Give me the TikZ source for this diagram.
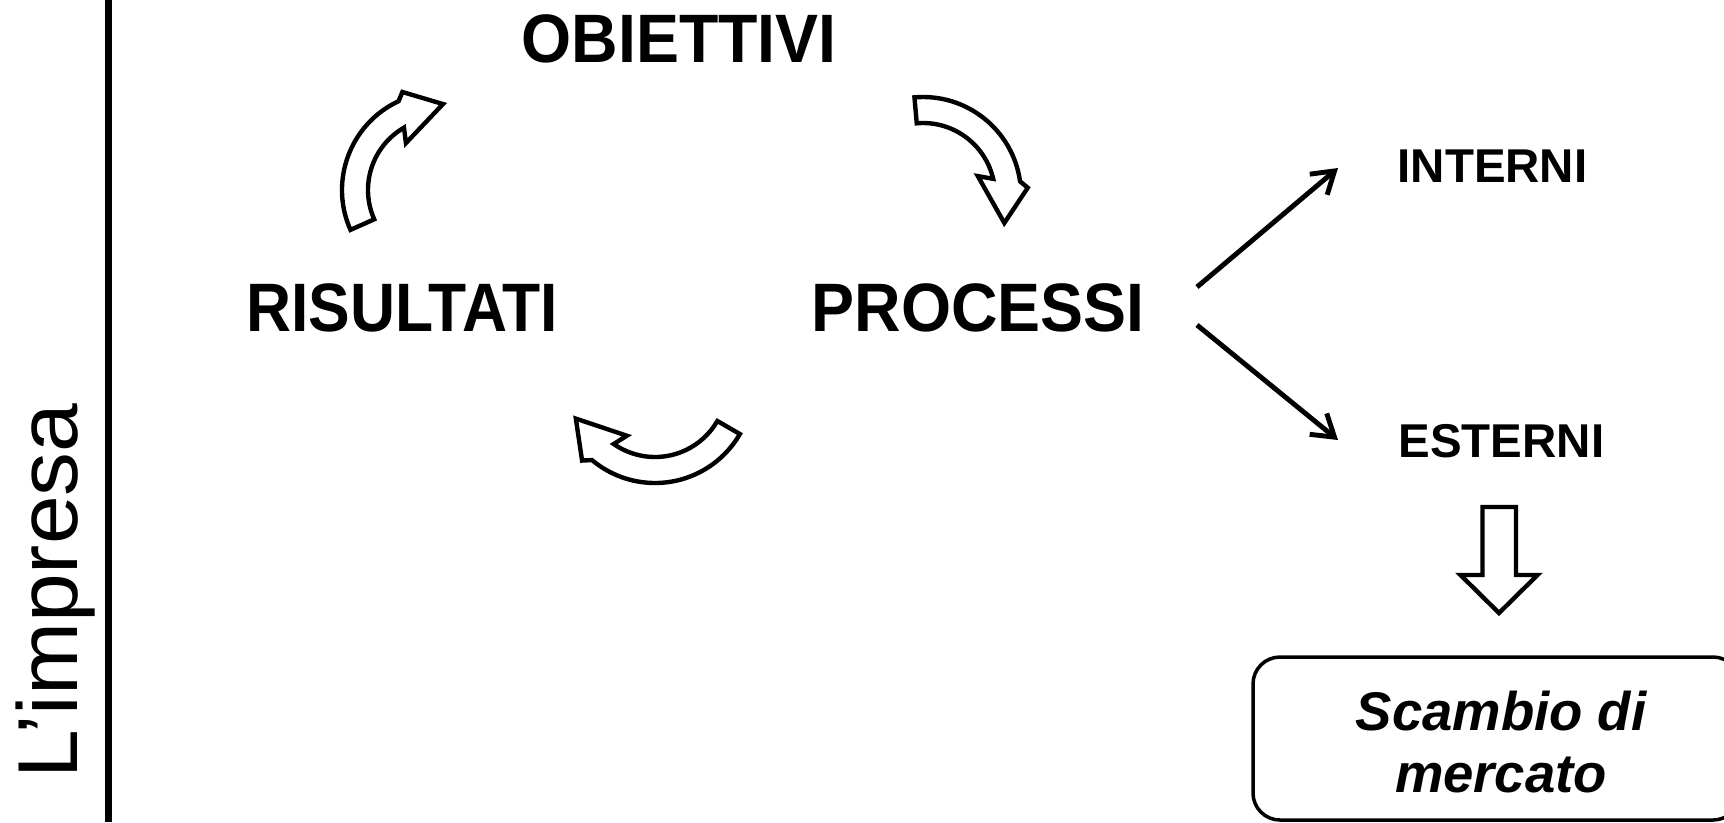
\documentclass[tikz,border=0pt]{standalone}
\usepackage{fontspec}
\setmainfont{Liberation Sans}
\usetikzlibrary{arrows.meta}

\tikzset{
  cycleword/.style={font=\bfseries\fontsize{19.5}{22}\selectfont, inner sep=0pt},
  sideword/.style={font=\bfseries\fontsize{13.5}{16}\selectfont, inner sep=0pt},
  flow/.style={line width=1.4pt, -{Straight Barb[length=2.1mm,width=2.7mm]}},
  blockarrow/.style={line width=1.25pt, line join=miter, fill=white},
}

% curved block arrow: centre, tail angle, head angle (runs clockwise)
\newcommand{\turnarrow}[3]{%
  \begin{scope}[shift={#1}]
    \draw[blockarrow] (#2:9.8) arc[start angle=#2, end angle=#3-2, radius=9.8]
      -- (#3-6:10.5) -- (#3-29:8.6) -- (#3+9:5.8) -- (#3+3:7.2)
      arc[start angle=#3+3, end angle=#2, radius=7.2] -- cycle;
  \end{scope}}

\begin{document}
\begin{tikzpicture}[x=1mm,y=1mm]
\useasboundingbox (0,0) rectangle (172.4,-82.2);
\clip (0,0) rectangle (172.4,-82.2);
% side title
\draw[line width=2pt] (10.85,0) -- (10.85,-82.2);
\node[rotate=90, anchor=base, font=\fontsize{24.2}{29}\selectfont] (impresa) at (7.7,-59.1) {\scalebox{1.03}[1]{L'impresa}};
% the cycle
\node[cycleword] (obiettivi) at (67.9,-3.85) {\scalebox{0.94}[1]{OBIETTIVI}};
\node[cycleword] (risultati) at (40.2,-30.8) {\scalebox{0.91}[1]{RISULTATI}};
\node[cycleword] (processi) at (97.8,-30.8) {\scalebox{0.94}[1]{PROCESSI}};
\turnarrow{(44,-19)}{204}{117}
\turnarrow{(92.3,-19.5)}{95}{10}
\turnarrow{(65.5,-38.5)}{330}{232}
% outputs
\node[sideword, anchor=base] (interni) at (149.25,-18.2) {INTERNI};
\node[sideword, anchor=base] (esterni) at (150.15,-45.7) {ESTERNI};
\coordinate (fromup) at (119.7,-28.7);
\coordinate (fromdown) at (119.7,-32.5);
\coordinate (tointerni) at (133.8,-16.8);
\coordinate (toesterni) at (133.8,-44.0);
\draw[flow] (fromup) -- (tointerni);
\draw[flow] (fromdown) -- (toesterni);
\draw[blockarrow] (148.25,-50.7) -- (151.6,-50.7) -- (151.6,-57.5) -- (153.75,-57.5)
  -- (149.9,-61.3) -- (146.05,-57.5) -- (148.25,-57.5) -- cycle;
% market
\node[draw, line width=1pt, rounded corners=2.7mm, minimum width=48.7mm, minimum height=16.3mm] (mercato) at (149.65,-73.85) {};
\node[font=\bfseries\itshape\fontsize{15.5}{17.9}\selectfont, align=center, inner sep=0pt] (scambio) at (150.1,-74.2)
  {Scambio di\\mercato};
\end{tikzpicture}
\end{document}
